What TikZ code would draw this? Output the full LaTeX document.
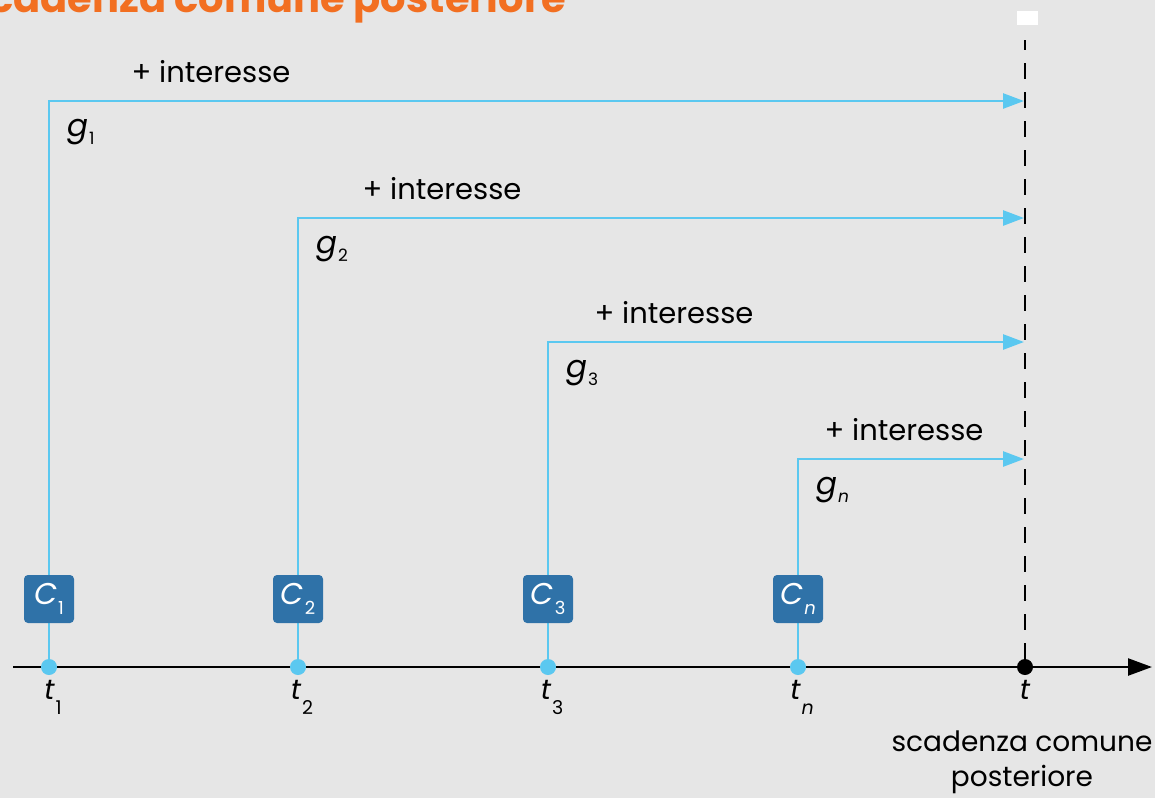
\documentclass[tikz,border=0pt]{standalone}
\usepackage{fontspec}
\setmainfont{Poppins}
\usetikzlibrary{arrows.meta}
\definecolor{bg}{HTML}{E6E6E6}
\definecolor{lblue}{HTML}{5BC8F0}
\definecolor{dblue}{HTML}{2F72A8}
\definecolor{orng}{HTML}{F26F21}
\tikzset{
  flow/.style={draw=lblue, line width=2.6pt, -{Triangle[length=21pt,width=15pt]}},
  cbox/.style={fill=dblue, rounded corners=4pt, minimum width=50pt, minimum height=48pt, inner sep=0pt, text=white, font=\fontsize{30}{30}\selectfont},
  dotb/.style={circle, fill=lblue, minimum size=16pt, inner sep=0pt},
  dotk/.style={circle, fill=black, minimum size=16pt, inner sep=0pt},
  lbl/.style={font=\fontsize{29}{30}\selectfont, inner sep=0pt},
  glbl/.style={font=\fontsize{31}{30}\selectfont, inner sep=0pt, anchor=west},
  tlbl/.style={font=\fontsize{28}{30}\selectfont, inner sep=0pt},
}
% subscript: #1 = lowering, #2 = size, #3 = text
\newcommand{\sbs}[3]{\raisebox{-#1}{\fontsize{#2}{#2}\selectfont #3}}
\begin{document}
\begin{tikzpicture}[x=1pt,y=-1pt]
\fill[bg] (0,0) rectangle (1155,798);
\useasboundingbox (0,0) rectangle (1155,798);
% title (cut off at the top edge)
\node[anchor=base east, text=orng, font=\fontsize{40}{44}\selectfont\bfseries, inner sep=0pt] (title) at (566,12) {Scadenza comune posteriore};
\fill[white] (1017,11) rectangle (1038,25);
% axis
\coordinate (ax0) at (13,667);
\coordinate (ax1) at (1152,667);
\draw[line width=2.4pt, -{Triangle[length=24pt,width=17pt]}] (ax0) -- (ax1);
% dashed line
\coordinate (dtop) at (1025,40);
\node[dotk] (t) at (1025,667) {};
\draw[line width=2.8pt, dash pattern=on 16pt off 13pt] (t) -- (dtop);
% ends of arrows
\coordinate (e1) at (1024,101);
\coordinate (e2) at (1024,218);
\coordinate (e3) at (1024,342);
\coordinate (en) at (1024,459);
% points
\foreach \n/\x/\y/\ix/\s in {1/49/101/211/1, 2/298/218/442/2, 3/548/342/674/3, n/798/459/904/{\itshape n}}{
  \node[dotb] (t\n) at (\x,667) {};
  \draw[flow] (t\n.center) |- (e\n);
  \node[cbox] (C\n) at (\x,599) {{\itshape C}\kern1pt\sbs{10pt}{18}{\s}};
  \node[glbl] (g\n) at (\x+18,\y+31) {{\itshape g}\kern1pt\sbs{8pt}{17}{\s}};
  \node[lbl] (i\n) at (\ix,\y-29) {+ interesse};
  \node[tlbl] (l\n) at (\x+4,697) {{\itshape t}\kern1pt\sbs{15pt}{19}{\s}};
}
\node[tlbl] (tl) at (1025,690) {\itshape t};
\node[lbl, align=center, font=\fontsize{28}{35}\selectfont] (sc) at (1022,762) {scadenza comune\\posteriore};
\end{tikzpicture}
\end{document}
